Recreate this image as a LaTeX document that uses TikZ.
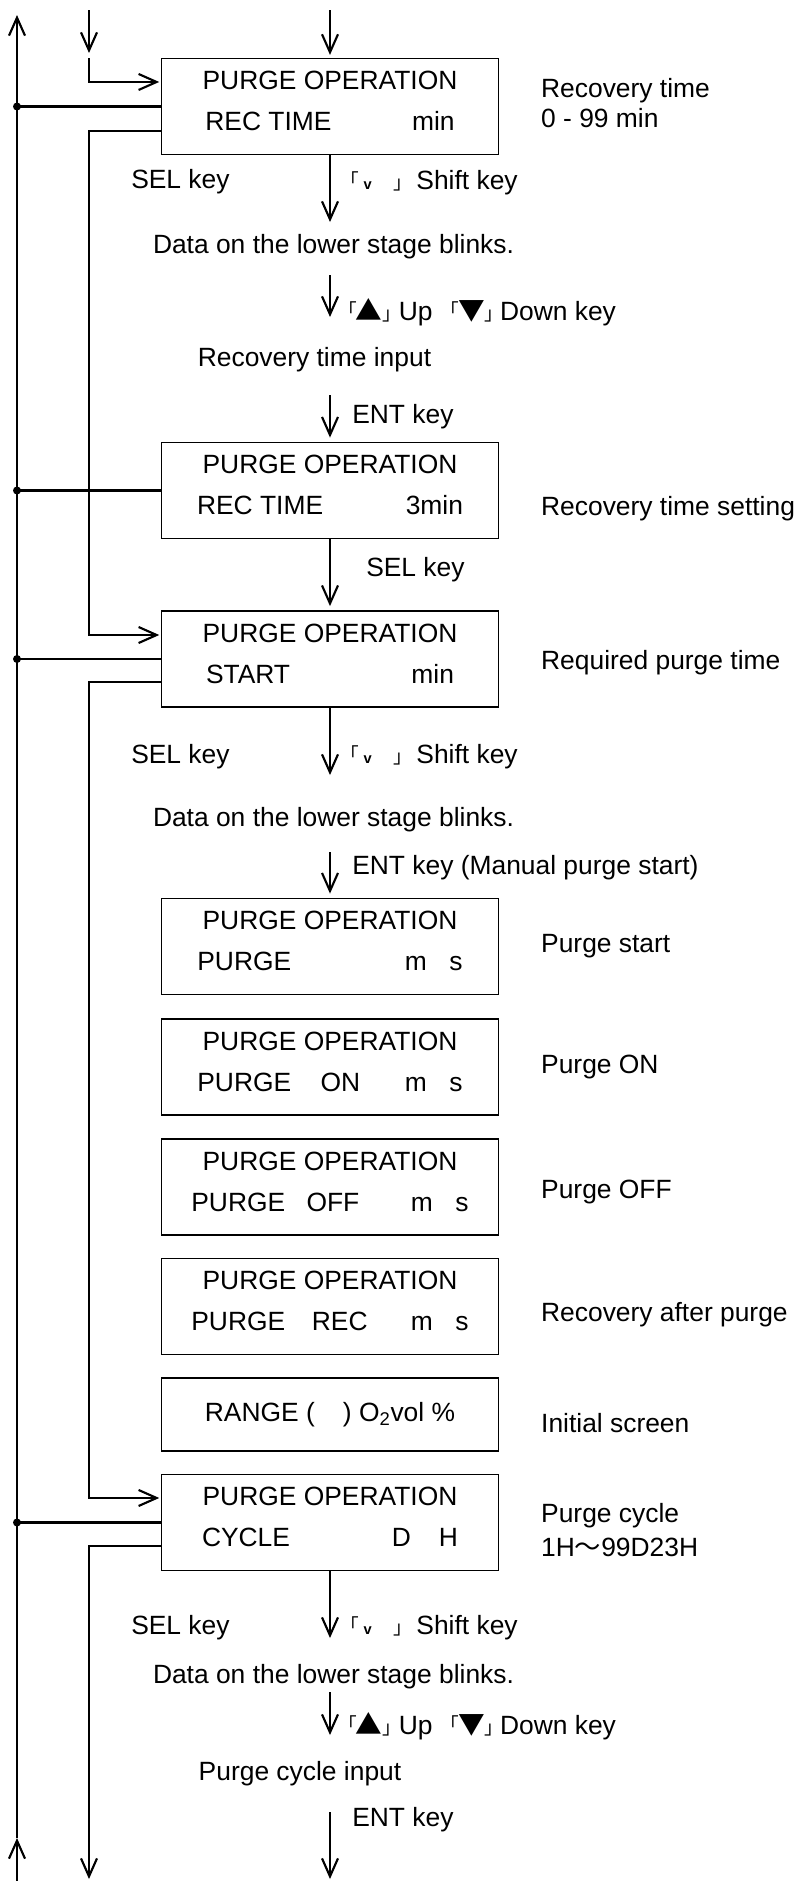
\documentclass[tikz,border=0pt]{standalone}
\usepackage{fontspec}
\setmainfont{Liberation Sans}
\newfontfamily\cjkfont{Noto Sans CJK JP}
\usepackage{tikz}
\usetikzlibrary{arrows.meta,positioning}

\newcommand{\keyopen}{\raisebox{2pt}{\cjkfont\fontsize{14}{14}\selectfont 「}}
\newcommand{\keyclose}{{\cjkfont\fontsize{14}{14}\selectfont 」}}
\newcommand{\shiftmark}{{\fontsize{11}{11}\selectfont\bfseries v}}
\newcommand{\keymark}[1]{{\cjkfont\fontsize{20}{20}\selectfont #1}}
\newcommand{\shiftkey}{\keyopen\hspace{3.5pt}\shiftmark\hspace{16pt}\keyclose\hspace{3.5pt}Shift key}
\newcommand{\updown}{\keyopen\kern-1pt\keymark{▲}\keyclose\kern-1.5pt Up\hspace{6pt}\keyopen\kern-1pt\keymark{▼}\keyclose\kern-2.5pt Down key}

\begin{document}
\begin{tikzpicture}[
  x=0.75pt, y=-0.75pt,
  font=\fontsize{19.8pt}{30.75pt}\selectfont,
  lcd/.style={rectangle, draw, line width=1.4pt, minimum width=252.75pt, minimum height=72pt,
              align=center, inner sep=0pt, text depth=8.5pt},
  note/.style={inner sep=0pt, align=left, font=\fontsize{19.8pt}{24pt}\selectfont},
  txt/.style={inner sep=0pt},
  arr/.style={-{Straight Barb[length=13.5pt,width=12pt]}, line width=1.6pt},
  bus/.style={line width=1.6pt}
]
\useasboundingbox (0,0) rectangle (793,1881);

% display screens
\node[lcd] (b1) at (330,106.5) {PURGE OPERATION\\\hbox to 187pt{REC TIME\hfill min}};
\node[lcd] (b2) at (330,490.5) {PURGE OPERATION\\\hbox to 199.5pt{REC TIME\hfill 3min}};
\node[lcd] (b3) at (330,659)   {PURGE OPERATION\\\hbox to 186pt{START\hfill min}};
\node[lcd] (b4) at (330,946.5) {PURGE OPERATION\\\hbox to 199pt{PURGE\hfill m\hspace{17pt}s}};
\node[lcd] (b5) at (330,1067)  {PURGE OPERATION\\\hbox to 199pt{PURGE\hspace{22pt}ON\hfill m\hspace{17pt}s}};
\node[lcd] (b6) at (330,1187)  {PURGE OPERATION\\\hbox to 208pt{PURGE\hspace{16pt}OFF\hfill m\hspace{17pt}s}};
\node[lcd] (b7) at (330,1306.5) {PURGE OPERATION\\\hbox to 208pt{PURGE\hspace{20pt}REC\hfill m\hspace{17pt}s}};
\node[lcd, minimum height=54.75pt, text depth=4pt] (b8) at (330,1414.5) {RANGE (\hspace{21pt}) O\textsubscript{2}vol \%};
\node[lcd] (b9) at (330,1522.5) {PURGE OPERATION\\\hbox to 192pt{CYCLE\hfill D\hspace{21pt}H}};

% notes on the right
\node[note, right=31.1pt of b1, yshift=2.6pt, font=\fontsize{19.8pt}{22.5pt}\selectfont] (n1) {Recovery time\\0 - 99 min};
\node[note, right=31.1pt of b2, yshift=-13.9pt] (n2) {Recovery time setting};
\node[note, right=31.1pt of b3, yshift=-3pt] (n3) {Required purge time};
\node[note, right=31.1pt of b4] (n4) {Purge start};
\node[note, right=31.1pt of b5] (n5) {Purge ON};
\node[note, right=31.1pt of b6, yshift=-3.7pt] (n6) {Purge OFF};
\node[note, right=31.1pt of b7, yshift=-6.4pt] (n7) {Recovery after purge};
\node[note, right=31.1pt of b8, yshift=-6.4pt] (n8) {Initial screen};
\node[note, right=31.1pt of b9, yshift=-5.6pt, font=\fontsize{19.8pt}{25.5pt}\selectfont] (n9) {Purge cycle\\1H{\cjkfont ～}99D23H};

% key texts
\node[txt, anchor=west] (sel1) at (131,182) {SEL key};
\node[txt, anchor=west] (sh1) at (340,183) {\shiftkey};
\node[txt] (blk1) at (333.5,247) {Data on the lower stage blinks.};
\node[txt, anchor=west] (ud1) at (338,312) {\updown};
\node[txt] (rin) at (314.5,360) {Recovery time input};
\node[txt, anchor=west] (ent1) at (352,417) {ENT key};
\node[txt, anchor=west] (sel2) at (366,570) {SEL key};
\node[txt, anchor=west] (sel3) at (131,757) {SEL key};
\node[txt, anchor=west] (sh2) at (340,757) {\shiftkey};
\node[txt] (blk2) at (333.5,820) {Data on the lower stage blinks.};
\node[txt, anchor=west] (ent2) at (352,868) {ENT key (Manual purge start)};
\node[txt, anchor=west] (sel4) at (131,1628) {SEL key};
\node[txt, anchor=west] (sh3) at (340,1628) {\shiftkey};
\node[txt] (blk3) at (333.5,1677) {Data on the lower stage blinks.};
\node[txt, anchor=west] (ud2) at (338,1726) {\updown};
\node[txt] (pin) at (300,1774) {Purge cycle input};
\node[txt, anchor=west] (ent3) at (352,1820) {ENT key};

% arrow ends
\coordinate (t0) at (330,10);
\coordinate (a1) at (330,222);
\coordinate (a2s) at (330,275);
\coordinate (a2e) at (330,317);
\coordinate (a3s) at (330,395);
\coordinate (a4) at (330,775);
\coordinate (a5s) at (330,852);
\coordinate (a6) at (330,1638);
\coordinate (a7s) at (330,1692);
\coordinate (a7e) at (330,1735);
\coordinate (a8s) at (330,1812);
\coordinate (a8e) at (330,1879);
\coordinate (Ltop) at (17,15);
\coordinate (Lmid) at (17,1838);
\coordinate (Lbot) at (17,1881);
\coordinate (Mtop) at (89,58);
\coordinate (Mbot) at (89,1879);
\coordinate (Ms) at (89,10);
\coordinate (Me) at (89,53);
\coordinate (b1i) at ([yshift=18.4pt]b1.west);
\coordinate (b1o) at ([yshift=-18.4pt]b1.west);
\coordinate (b3i) at ([yshift=18pt]b3.west);
\coordinate (b3o) at ([yshift=-17.5pt]b3.west);
\coordinate (b9i) at ([yshift=18.4pt]b9.west);
\coordinate (b9o) at ([yshift=-17.6pt]b9.west);

% main flow
\draw[arr, shorten >=2pt] (t0) -- (b1.north);
\draw[arr] (b1.south) -- (a1);
\draw[arr] (a2s) -- (a2e);
\draw[arr, shorten >=3pt] (a3s) -- (b2.north);
\draw[arr, shorten >=3pt] (b2.south) -- (b3.north);
\draw[arr] (b3.south) -- (a4);
\draw[arr, shorten >=3pt] (a5s) -- (b4.north);
\draw[arr] (b9.south) -- (a6);
\draw[arr] (a7s) -- (a7e);
\draw[arr] (a8s) -- (a8e);

% return lines on the left
\draw[arr] (Lmid) -- (Ltop);
\draw[arr] (Lbot) -- (Lmid);
\draw[arr] (Ms) -- (Me);
\draw[arr, shorten >=1pt] (Mtop) |- (b1i);
\draw[arr, shorten >=1pt] (b1o) -| (Mtop |- b3i) -- (b3i);
\draw[arr, shorten >=1pt] (b3o) -| (Mtop |- b9i) -- (b9i);
\draw[arr] (b9o) -| (Mbot);
\foreach \b in {b1,b2,b3,b9} {
  \draw[bus] (\b.west) -- (\b.west -| Ltop);
  \fill (\b.west -| Ltop) circle (3pt);
}
\end{tikzpicture}
\end{document}
